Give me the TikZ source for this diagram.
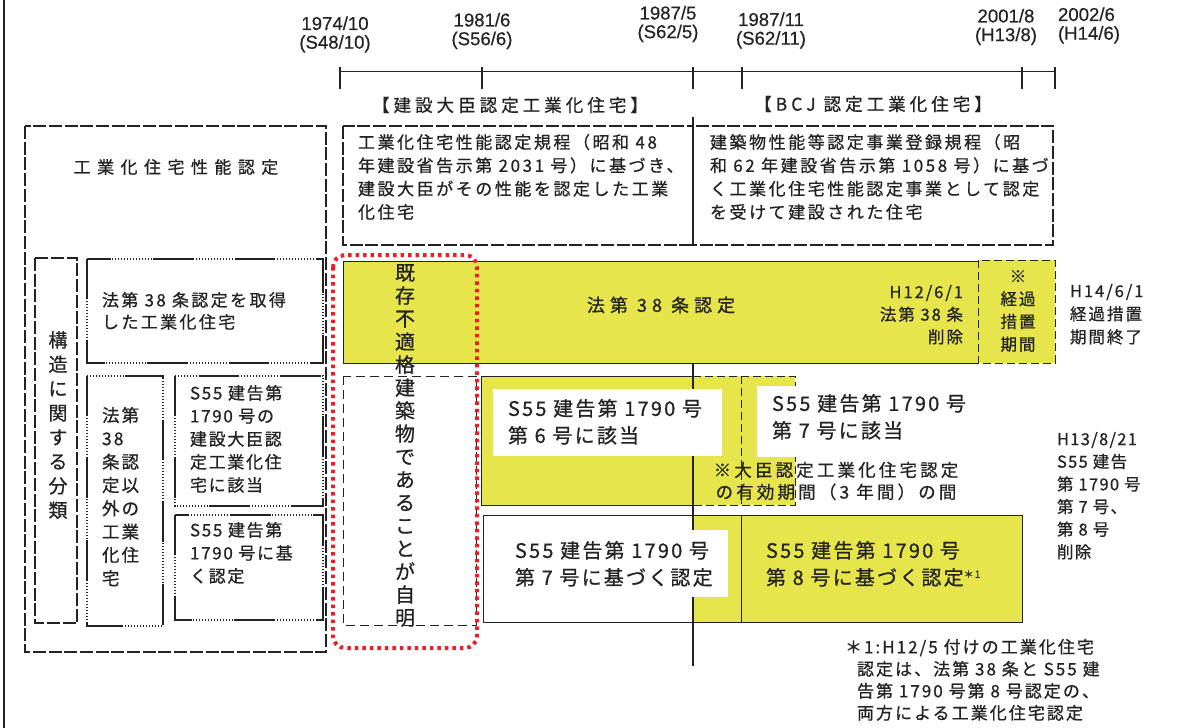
\documentclass[tikz,border=0pt]{standalone}
\usepackage{fontspec}
\setmainfont{Noto Sans CJK JP}[FakeBold=0.7]
\newfontfamily\lat{Liberation Sans}[FakeBold=0.4]
\newcommand\jf[3]{\fontsize{#1}{#2}\selectfont\addfontfeature{LetterSpace=#3}}
\newcommand\lf{\lat\fontsize{18.6}{18.7}\selectfont}
\definecolor{ylw}{RGB}{231,229,76}
\definecolor{redd}{RGB}{232,32,40}
\definecolor{ink}{RGB}{35,35,35}
\begin{document}
\begin{tikzpicture}[x=1pt,y=-1pt,
  every node/.style={inner sep=0pt, outer sep=0pt, text=ink},
  date/.style={font=\lf, align=center},
  ldash/.style={draw=ink, line width=1.3pt, dash pattern=on 13pt off 2.7pt},
  sdash/.style={draw=ink, line width=1pt, dash pattern=on 8pt off 4pt},
  mixbox/.style={draw=ink, line width=2.4pt, dash pattern=on 40pt off 42pt,
     preaction={draw=ink, line width=1.4pt, dash pattern=on 1.4pt off 1.6pt}},
  solidbox/.style={draw=ink, line width=1pt},
]
\useasboundingbox (0,0) rectangle (1192,728);
\fill[white] (0,0) rectangle (1192,728);
\draw[ink, line width=1.5pt] (4,0) -- (4,728);

% timeline
\coordinate (t1) at (340,71);
\coordinate (t6) at (1055,71);
\draw[ink, line width=1pt] (t1) -- (t6);
\foreach \x in {340,482,693,742,1022,1055} \draw[ink, line width=1.2pt] (\x,67) -- (\x,89);
\node[date] (d1) at (335,34.5) {1974/10\\(S48/10)};
\node[date] (d2) at (482,31) {1981/6\\(S56/6)};
\node[date] (d3) at (668,24) {1987/5\\(S62/5)};
\node[date] (d4) at (771,30.5) {1987/11\\(S62/11)};
\node[date] (d5) at (1006,27) {2001/8\\(H13/8)};
\node[date, anchor=west, align=left] (d6) at (1058,25.5) {2002/6\\(H14/6)};

\node[font=\jf{17.5}{22}{23}] (h1) at (510,105) {【建設大臣認定工業化住宅】};
\node[font=\jf{17.5}{22}{23}] (h2) at (873,104) {【BCJ 認定工業化住宅】};

% top boxes
\draw[ldash] (343,126) rectangle (693,245);
\draw[ldash] (693,126) rectangle (1053,245);
\node[anchor=north west, align=left, font=\jf{17}{23.3}{15}] (b1t) at (358,134) {工業化住宅性能認定規程（昭和 48\\年建設省告示第 2031 号）に基づき、\\建設大臣がその性能を認定した工業\\化住宅};
\node[anchor=north west, align=left, font=\jf{17}{23.3}{15}] (b2t) at (710,134) {建築物性能等認定事業登録規程（昭\\和 62 年建設省告示第 1058 号）に基づ\\く工業化住宅性能認定事業として認定\\を受けて建設された住宅};

% left big box
\draw[ldash] (25,126) rectangle (326,652);
\node[font=\jf{17}{22}{38}] (lt) at (176,167) {工業化住宅性能認定};
\draw[ldash] (35,258) rectangle (77,623);
\node[align=center, font=\jf{19}{24.3}{0}] (vt) at (58,425) {構\\造\\に\\関\\す\\る\\分\\類};
\draw[mixbox] (87,259) rectangle (323,363);
\draw[mixbox] (87,376) rectangle (163,626);
\draw[mixbox] (175,376) rectangle (323,506);
\draw[mixbox] (175,515) rectangle (323,620);
\node[anchor=north west, align=left, font=\jf{17}{22}{14}] (m1) at (102,292) {法第 38 条認定を取得\\した工業化住宅};
\node[anchor=north west, align=left, font=\jf{17.5}{23.3}{12}] (m2) at (102,407) {法第\\38\\条認\\定以\\外の\\工業\\化住\\宅};
\node[anchor=north west, align=left, font=\jf{17}{23}{10}] (m3) at (190,385) {S55 建告第\\1790 号の\\建設大臣認\\定工業化住\\宅に該当};
\node[anchor=north west, align=left, font=\jf{17}{23}{10}] (m4) at (190,522) {S55 建告第\\1790 号に基\\く認定};

% yellow bar
\fill[ylw] (343,261) rectangle (978,363);
\draw[solidbox] (978,261) -- (343,261) -- (343,363) -- (978,363);
\fill[ylw] (978,260) rectangle (1055,363);
\draw[sdash] (978,260) rectangle (1055,363);

% 6go box
\fill[ylw] (481,376) rectangle (795,505);
\draw[solidbox] (693,376) -- (481,376) -- (481,505) -- (693,505);
\draw[sdash] (693,376) -- (795,376) -- (795,505) -- (693,505);
\draw[sdash] (741,376) -- (741,505);

% bottom box
\fill[ylw] (693,515) rectangle (1022,622);
\draw[solidbox] (483,515) rectangle (1022,622);
\draw[solidbox] (741,515) -- (741,622);

% main vertical line
\draw[ink, line width=1.2pt] (693,117) -- (693,126);
\draw[ink, line width=1.2pt] (693,363) -- (693,666);

% white labels
\fill[white] (493,389) rectangle (722,456);
\fill[white] (757,386) rectangle (1000,457);
\fill[white] (495,530) rectangle (728,597);
\node[anchor=north west, align=left, font=\jf{20}{27}{11}] (l6) at (508,399) {S55 建告第 1790 号\\第 6 号に該当};
\node[anchor=north west, align=left, font=\jf{20}{27}{11}] (l7) at (772,394) {S55 建告第 1790 号\\第 7 号に該当};
\node[anchor=north west, align=left, font=\jf{20}{27}{11}] (l7b) at (515,541) {S55 建告第 1790 号\\第 7 号に基づく認定};
\node[anchor=north west, align=left, font=\jf{20}{27}{11}] (l8) at (766,541) {S55 建告第 1790 号\\第 8 号に基づく認定{\fontsize{10}{10}\selectfont\raisebox{7pt}{＊1}}};
\node[align=center, font=\jf{17.5}{22}{18}] (note) at (836,481) {※大臣認定工業化住宅認定\\の有効期間（3 年間）の間};

% yellow bar texts
\node[font=\jf{18}{22}{28}] (y1) at (661,305) {法第 38 条認定};
\node[anchor=north east, align=right, font=\jf{16.5}{22.5}{12}] (y2) at (963,285) {H12/6/1\\法第 38 条\\削除};
\node[align=center, font=\jf{16.5}{22.7}{12}] (y3) at (1018,311) {※\\経過\\措置\\期間};
\node[anchor=north west, align=left, font=\jf{16.5}{23}{12}] (y4) at (1070,284) {H14/6/1\\経過措置\\期間終了};

% right block
\node[anchor=north west, align=left, font=\jf{16.5}{22.6}{8}] (rb) at (1057,432) {H13/8/21\\S55 建告\\第 1790 号\\第 7 号、\\第 8 号\\削除};

% footnote
\node[anchor=north west, align=left, font=\jf{17}{22}{12}] (fn) at (845,639) {＊1:H12/5 付けの工業化住宅\\\hspace*{12pt}認定は、法第 38 条と S55 建\\\hspace*{12pt}告第 1790 号第 8 号認定の、\\\hspace*{12pt}両方による工業化住宅認定};

% red dotted + middle dashed
\draw[ink, line width=1pt, dash pattern=on 9pt off 5pt] (343,376) rectangle (476,625);
\draw[redd, line width=4pt, dash pattern=on 3.5pt off 4pt, rounded corners=12pt] (333,255) rectangle (477,648);
\node[align=center, font=\jf{20}{23}{0}] (kz) at (405,445.5) {既\\存\\不\\適\\格\\建\\築\\物\\で\\あ\\る\\こ\\と\\が\\自\\明};
\end{tikzpicture}
\end{document}
